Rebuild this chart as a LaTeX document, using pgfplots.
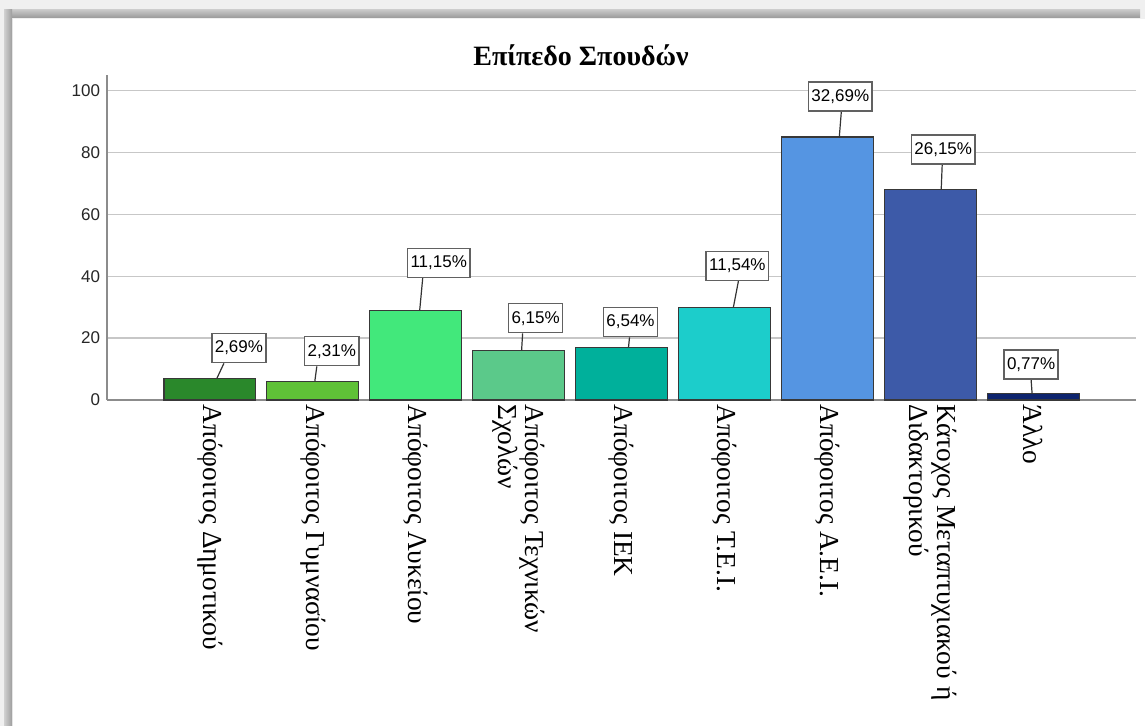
\documentclass[border=0pt]{standalone}
\usepackage{fontspec}
\setmainfont{Liberation Sans}
\newfontfamily\grserif{Liberation Serif}
\usepackage{pgfplots}
\pgfplotsset{compat=1.18}
\definecolor{c1}{HTML}{2A882B}
\definecolor{c2}{HTML}{5FC137}
\definecolor{c3}{HTML}{42E87B}
\definecolor{c4}{HTML}{5BC98A}
\definecolor{c5}{HTML}{00B09B}
\definecolor{c6}{HTML}{1CCDCB}
\definecolor{c7}{HTML}{5595E2}
\definecolor{c8}{HTML}{3D5AA8}
\definecolor{c9}{HTML}{0E246E}
\pgfplotsset{
  barc/.style={fill=#1, draw=black!78, line width=0.6bp, bar shift=0pt, bar width=0.894},
  lbl/.style n args={4}{nodes near coords, point meta=explicit symbolic,
    every node near coord/.style={draw=black!62, line width=0.75bp, fill=white, text=black,
      font=\fontsize{8.5bp}{10bp}\selectfont, inner xsep=1.5bp, inner ysep=0pt, minimum height=14.5bp,
      anchor=south, xshift={#1*0.5bp}, yshift={#2*0.5bp},
      append after command={\pgfextra{%
        \begin{pgfscope}\pgftransformreset
        \pgfsetlinewidth{0.6bp}\pgfsetstrokecolor{black!80}%
        \pgfpathmoveto{\pgfpointadd{\pgfpointanchor{\tikzlastnode}{south}}{\pgfpoint{(#3-#1)*0.5bp}{0pt}}}%
        \pgfpathlineto{\pgfpointadd{\pgfpointanchor{\tikzlastnode}{south}}{\pgfpoint{(#4-#1)*0.5bp}{-#2*0.5bp}}}%
        \pgfusepath{stroke}\end{pgfscope}}}}}
}
\begin{document}
\begin{tikzpicture}
\useasboundingbox (0,0) rectangle (572.5bp,363bp);
\fill[black!6] (0,0) rectangle (572.5bp,363bp);
\shade[top color=black!22, bottom color=black!40] (2bp,354bp) rectangle (570bp,358bp);
\shade[left color=black!18, right color=black!38] (2bp,0bp) rectangle (6bp,358bp);
\fill[white] (6.5bp,0) rectangle (572.5bp,353.5bp);
\node[font=\grserif\bfseries\fontsize{14bp}{16bp}\selectfont] at (290.5bp,335.5bp) {Επίπεδο Σπουδών};
\begin{axis}[
  at={(53.5bp,163bp)}, anchor=south west, scale only axis,
  width=514.5bp, height=162.5bp,
  ybar, xmin=-1, xmax=9, ymin=0, ymax=105,
  axis x line*=bottom, axis y line*=left,
  axis line style={-, draw=black!45, line width=0.8bp},
  ymajorgrids, grid style={draw=black!22, line width=0.6bp},
  ytick={0,20,40,60,80,100}, xtick={0,...,8},
  major tick length=0pt,
  /pgf/number format/assume math mode=true,
  yticklabel style={font=\fontsize{8.5bp}{10bp}\selectfont, text=black!85},
  xticklabels={{Απόφοιτος Δημοτικού},{Απόφοιτος Γυμνασίου},{Απόφοιτος Λυκείου},{Απόφοιτος Τεχνικών\\Σχολών},{Απόφοιτος ΙΕΚ},{Απόφοιτος Τ.Ε.Ι.},{Απόφοιτος Α.Ε.Ι.},{Κάτοχος Μεταπτυχιακού ή\\Διδακτορικού},{Άλλο}},
  xticklabel style={rotate=-90, anchor=west, align=left, inner sep=2bp, font=\grserif\fontsize{13.7bp}{12.5bp}\selectfont},
  clip=false,
]
\addplot[barc=c1, lbl={29}{15}{14}{7}] coordinates {(0,7) [2,69\%]};
\addplot[barc=c2, lbl={19}{15}{4}{2}] coordinates {(1,6) [2,31\%]};
\addplot[barc=c3, lbl={23}{32}{7}{4}] coordinates {(2,29) [11,15\%]};
\addplot[barc=c4, lbl={17}{17}{4}{3}] coordinates {(3,16) [6,15\%]};
\addplot[barc=c5, lbl={9}{10}{8}{7}] coordinates {(4,17) [6,54\%]};
\addplot[barc=c6, lbl={13}{26}{14}{9}] coordinates {(5,30) [11,54\%]};
\addplot[barc=c7, lbl={13}{25}{14}{12}] coordinates {(6,85) [32,69\%]};
\addplot[barc=c8, lbl={13}{25}{12}{11}] coordinates {(7,68) [26,15\%]};
\addplot[barc=c9, lbl={-2}{14}{-2}{-1}] coordinates {(8,2) [0,77\%]};
\end{axis}
\end{tikzpicture}
\end{document}
